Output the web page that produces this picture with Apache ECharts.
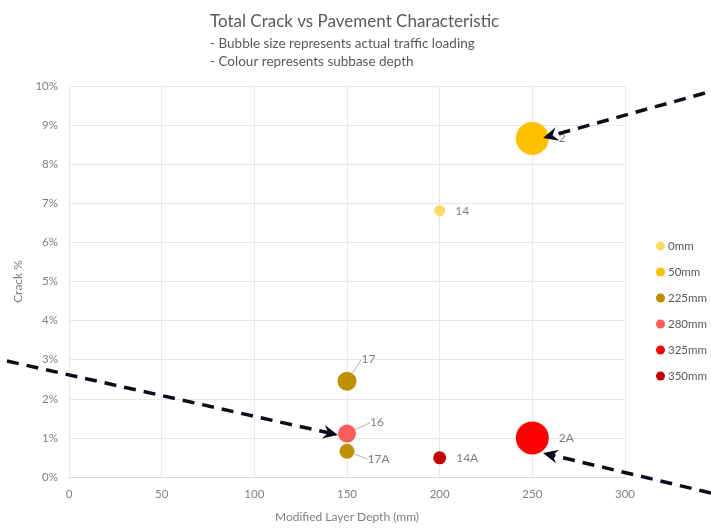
<!DOCTYPE html>
<html>
<head>
<meta charset="utf-8">
<script src="https://cdn.jsdelivr.net/npm/echarts@6/dist/echarts.min.js"></script>
<style>
  html, body { margin: 0; padding: 0; background: #fff; }
  #chart { width: 711px; height: 528px; }
</style>
</head>
<body>
<div id="chart"></div>
<script>
// subbase depth groups (legend order)
const subbaseDepths = ["0mm", "50mm", "225mm", "280mm", "325mm", "350mm"];

// one entry per test section
const sections = ["14", "2", "17", "17A", "16", "2A", "14A"];
const layerDepth = [200, 250, 150, 150, 150, 250, 200];
const crackPct = [6.81, 8.66, 2.45, 0.66, 1.11, 1.0, 0.49];
const bubbleSize = [11, 33, 19, 15, 18, 33, 13];
const sectionSubbase = ["0mm", "50mm", "225mm", "225mm", "280mm", "325mm", "350mm"];

const xTicks = { min: 0, max: 300, step: 50 };
const yTicks = { min: 0, max: 10, step: 1 };

const colours = {
  "0mm": "#FFD966",
  "50mm": "#FFC000",
  "225mm": "#BF9000",
  "280mm": "#FF5B5B",
  "325mm": "#FF0000",
  "350mm": "#C00000",
};

// labels that sit off to the side with a leader line (px offsets)
const labelShift = {
  "17": [-5, -22],
  "16": [4, -11],
  "17A": [3, 8],
};

const grey = "#7f7f7f";
const font = "Lato, 'Open Sans', sans-serif";

const chart = echarts.init(document.getElementById("chart"));

const series = subbaseDepths.map((depth) => ({
  name: depth,
  type: "scatter",
  itemStyle: { color: colours[depth], opacity: 1 },
  symbolSize: (v) => v[2],
  data: sections
    .map((s, i) => ({ name: s, value: [layerDepth[i], crackPct[i], bubbleSize[i]], d: sectionSubbase[i] }))
    .filter((p) => p.d === depth)
    .map(({ name, value }) => ({
      name,
      value,
      labelLine: { show: !!labelShift[name] },
    })),
  label: {
    show: true,
    position: "right",
    distance: 10,
    formatter: "{b}",
    color: grey,
    fontSize: 12,
    fontFamily: font,
  },
  labelLine: {
    show: false,
    lineStyle: { color: "#b0b0b0", width: 1 },
  },
  labelLayout: (params) => {
    const name = pointName(params);
    const shift = labelShift[name];
    return shift ? { dx: shift[0], dy: shift[1] } : {};
  },
  emphasis: { disabled: true },
}));

function pointName(params) {
  const s = series[params.seriesIndex];
  return s ? s.data[params.dataIndex].name : "";
}

// hand drawn arrows on top of the chart (pixel positions)
const arrows = [
  { from: [705, 93], to: [543, 138] },
  { from: [7, 361], to: [338, 435] },
  { from: [711, 493], to: [543, 453] },
];

function arrowGraphic(a) {
  const [x1, y1] = a.from;
  const [x2, y2] = a.to;
  const len = Math.hypot(x2 - x1, y2 - y1);
  const ux = (x2 - x1) / len;
  const uy = (y2 - y1) / len;
  const headLen = 15;
  const headW = 7;
  const bx = x2 - ux * headLen;
  const by = y2 - uy * headLen;
  const nx = x2 - ux * (headLen - 5);
  const ny = y2 - uy * (headLen - 5);
  return [
    {
      type: "line",
      shape: { x1, y1, x2: nx, y2: ny },
      style: { stroke: "#0b0b1c", lineWidth: 3.5, lineDash: [12, 8] },
      z: 100,
    },
    {
      type: "polygon",
      shape: {
        points: [
          [x2, y2],
          [bx - uy * headW, by + ux * headW],
          [nx, ny],
          [bx + uy * headW, by - ux * headW],
        ],
      },
      style: { fill: "#0b0b1c" },
      z: 100,
    },
  ];
}

const option = {
  animation: false,
  textStyle: { fontFamily: font },
  title: {
    left: 205,
    top: 6,
    text: "Total Crack vs Pavement Characteristic",
    textStyle: { color: "#595959", fontSize: 17, fontWeight: "normal", fontFamily: font, lineHeight: 21 },
    subtext: "- Bubble size represents actual traffic loading\n- Colour represents subbase depth",
    subtextStyle: { color: "#595959", fontSize: 13.5, fontFamily: font, lineHeight: 18 },
    itemGap: 3,
  },
  legend: {
    orient: "vertical",
    left: 651,
    top: 235,
    icon: "circle",
    itemWidth: 9,
    itemHeight: 9,
    itemGap: 14,
    textStyle: { color: "#595959", fontSize: 11.5, fontFamily: font, padding: [0, 0, 0, -2] },
    data: subbaseDepths,
  },
  grid: {
    left: 69,
    right: 86,
    top: 86,
    bottom: 50,
  },
  xAxis: {
    type: "value",
    min: xTicks.min,
    max: xTicks.max,
    interval: xTicks.step,
    name: "Modified Layer Depth (mm)",
    nameLocation: "middle",
    nameGap: 34,
    nameTextStyle: { color: grey, fontSize: 12, fontFamily: font },
    axisLine: { show: true, lineStyle: { color: "#d9d9d9" } },
    axisTick: { show: false },
    axisLabel: { color: grey, fontSize: 11.5, margin: 11 },
    splitLine: { show: true, lineStyle: { color: "#e8e8e8" } },
  },
  yAxis: {
    type: "value",
    min: yTicks.min,
    max: yTicks.max,
    interval: yTicks.step,
    name: "Crack %",
    nameLocation: "middle",
    nameGap: 41,
    nameTextStyle: { color: grey, fontSize: 12, fontFamily: font },
    axisLine: { show: true, lineStyle: { color: "#e8e8e8" } },
    axisTick: { show: false },
    axisLabel: { color: grey, fontSize: 11.5, margin: 11, formatter: "{value}%" },
    splitLine: { show: true, lineStyle: { color: "#e8e8e8" } },
  },
  series: series,
  graphic: arrows.flatMap(arrowGraphic),
};

chart.setOption(option);

window.addEventListener("resize", () => {
  chart.resize();
});
</script>
</body>
</html>
